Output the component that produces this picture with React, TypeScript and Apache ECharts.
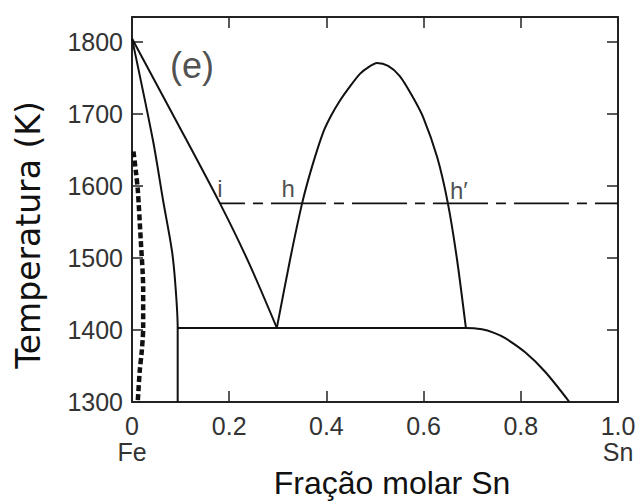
import React, { useEffect, useRef } from "react";
import * as echarts from "echarts";

// Liquidus from pure Fe to the monotectic point
const liquidusFe: [number, number][] = [
  [0.0, 1805], [0.09, 1692], [0.181, 1576], [0.24, 1494], [0.298, 1403],
];
// Solidus / solvus of the bcc Fe phase
const solvusFe: [number, number][] = [
  [0.0, 1805], [0.043, 1664], [0.064, 1580], [0.082, 1511], [0.089, 1465], [0.094, 1403], [0.094, 1300],
];
// Dashed (thick) boundary close to Fe
const dashedFe: [number, number][] = [
  [0.003, 1648], [0.008, 1620], [0.012, 1594], [0.018, 1525], [0.022, 1479], [0.023, 1456],
  [0.023, 1404], [0.020, 1370], [0.016, 1344], [0.012, 1302],
];
// Liquid miscibility gap (dome)
const miscibilityGap: [number, number][] = [
  [0.298, 1403], [0.325, 1497], [0.350, 1576], [0.370, 1626], [0.393, 1674], [0.409, 1697],
  [0.428, 1719], [0.449, 1739], [0.469, 1756], [0.486, 1765], [0.504, 1771], [0.527, 1767],
  [0.551, 1753], [0.576, 1726], [0.599, 1696], [0.628, 1640], [0.650, 1576], [0.669, 1497],
  [0.687, 1403],
];
// Monotectic horizontal and liquidus towards Sn
const monotecticLine: [number, number][] = [
  [0.094, 1403], [0.687, 1403], [0.72, 1401], [0.745, 1396], [0.767, 1389], [0.809, 1369],
  [0.85, 1342], [0.90, 1300],
];
// Dash-dot tie line at the experiment temperature
const tieLine: [number, number][] = [[0.181, 1576], [1.0, 1576]];

// Point labels
const pointLabels = ["i", "h", "h′"];
const pointPositions: [number, number][] = [[0.181, 1576], [0.350, 1576], [0.650, 1576]];
const pointOffsets: [number, number][] = [[0, 0], [-14, 0], [11, 2]];
const panelLabel = "(e)";
const panelPosition: [number, number] = [0.1235, 1767];

const xTicks = [0, 0.2, 0.4, 0.6, 0.8, 1.0];
const xTickLabels = ["0\nFe", "0.2", "0.4", "0.6", "0.8", "1.0\nSn"];
const yTicks = [1300, 1400, 1500, 1600, 1700, 1800];
const xTitle = "Fração molar Sn";
const yTitle = "Temperatura (K)";

const lineColor = "#111";
const frameColor = "#222";

export default function App() {
  const ref = useRef<HTMLDivElement>(null);
  useEffect(() => {
    if (!ref.current) return;
    const chart = echarts.init(ref.current, undefined, { renderer: "svg" });
    const curve = (data: [number, number][], smooth: number | boolean = false, extra: any = {}) => ({
      type: "line",
      data,
      showSymbol: false,
      symbol: "none",
      smooth,
      silent: true,
      lineStyle: { color: lineColor, width: 2, ...extra },
      z: 3,
    });
    const frameAxis = {
      type: "value",
      axisLine: { show: true, onZero: false, lineStyle: { color: frameColor, width: 2 } },
      axisTick: { show: true, inside: true, length: 11, lineStyle: { color: frameColor, width: 1.5 } },
      splitLine: { show: false },
    };
    const option: any = {
      animation: false,
      grid: { left: 132, right: 20, top: 17, bottom: 99, containLabel: false, outerBoundsMode: "none" },
      xAxis: [
        {
          ...frameAxis,
          position: "bottom",
          min: 0,
          max: 1,
          interval: 0.2,
          axisLabel: {
            margin: 11,
            fontFamily: "Liberation Sans",
            fontSize: 25,
            lineHeight: 26,
            color: "#333",
            formatter: (v: number) => {
              const i = xTicks.findIndex((t) => Math.abs(t - v) < 1e-6);
              return i >= 0 ? xTickLabels[i] : "";
            },
          },
        },
        {
          ...frameAxis,
          position: "top",
          min: 0,
          max: 1,
          interval: 0.2,
          axisLabel: { show: false },
        },
      ],
      yAxis: [
        {
          ...frameAxis,
          position: "left",
          min: 1300,
          max: 1835,
          interval: 100,
          axisLabel: {
            margin: 9,
            fontFamily: "Liberation Sans",
            fontSize: 25,
            color: "#333",
            showMaxLabel: false,
            formatter: (v: number) => (yTicks.includes(v) ? String(v) : ""),
          },
        },
        {
          ...frameAxis,
          position: "right",
          min: 1300,
          max: 1835,
          interval: 100,
          axisLabel: { show: false },
        },
      ],
      graphic: [
        {
          type: "text",
          x: 392,
          y: 483,
          style: {
            text: xTitle,
            fontFamily: "Liberation Sans",
            fontSize: 32,
            fill: "#111",
            align: "center",
            verticalAlign: "middle",
          },
        },
        {
          type: "text",
          x: 28,
          y: 235,
          rotation: Math.PI / 2,
          style: {
            text: yTitle,
            fontFamily: "DejaVu Sans",
            fontSize: 33,
            fill: "#111",
            align: "center",
            verticalAlign: "middle",
          },
        },
      ],
      series: [
        curve(liquidusFe, 0.3),
        curve(solvusFe, 0.3),
        curve(dashedFe, 0.3, { width: 4.5, type: [6, 3] }),
        curve(miscibilityGap, 0.25),
        curve(monotecticLine, 0.3),
        curve(tieLine, false, { width: 1.8, type: [55, 8, 10, 8], dashOffset: 30 }),
        {
          type: "scatter",
          symbolSize: 0,
          silent: true,
          data: pointPositions.map((p, i) => ({
            value: p,
            label: {
              show: true,
              position: "top",
              distance: 3,
              offset: pointOffsets[i],
              formatter: pointLabels[i],
              fontFamily: "Liberation Sans",
              fontSize: 24,
              color: "#222",
            },
          })),
          z: 5,
        },
        {
          type: "scatter",
          symbolSize: 0,
          silent: true,
          data: [
            {
              value: panelPosition,
              label: {
                show: true,
                position: "inside",
                formatter: panelLabel,
                fontFamily: "Liberation Sans",
                fontSize: 36,
                color: "#222",
              },
            },
          ],
          z: 5,
        },
      ],
    };
    chart.setOption(option);
    return () => chart.dispose();
  }, []);
  return <div ref={ref} style={{ width: 638, height: 501, position: "absolute", left: 0, top: 0, background: "#fff" }} />;
}
